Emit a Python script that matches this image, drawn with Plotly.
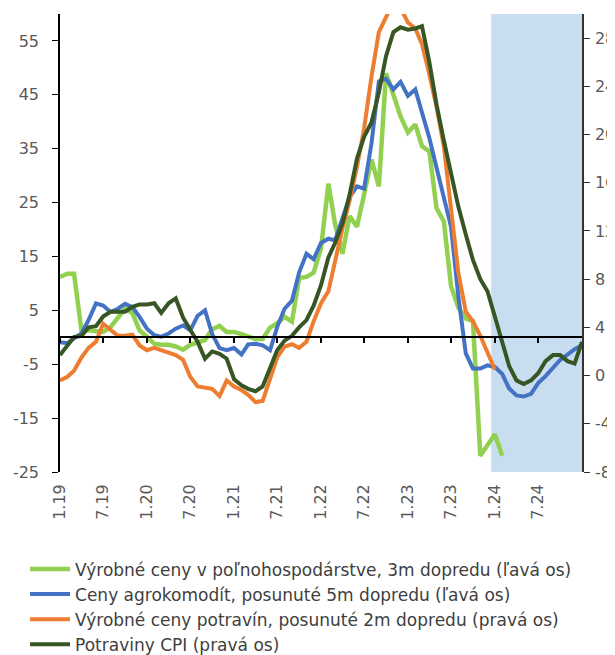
import plotly.graph_objects as go
import pandas as pd

# ---------------- data ----------------
months = pd.date_range("2019-01-01", periods=73, freq="MS")

green_vals = [11.2, 11.8, 11.8, 1.3, 1.3, 1.2, 1.0, 1.9, 3.8, 5.3,
              4.5, 1.3, 0.1, -1.2, -1.4, -1.4, -1.7, -2.3, -1.4, -1.0,
              -0.5, 1.5, 2.1, 1.0, 1.0, 0.6, 0.2, -0.3, -0.3, 1.8,
              2.6, 3.8, 2.9, 11.0, 11.2, 12.0, 16.5, 28.5, 21.0, 15.5,
              22.5, 20.5, 26.5, 33.0, 28.0, 49.0, 45.0, 41.0, 38.0, 39.5,
              35.5, 34.5, 24.0, 21.5, 9.5, 5.5, 3.5, 3.0, -22.0, -20.0,
              -18.0, -22.0]

blue_vals = [-0.9, -1.1, -0.2, 0.7, 3.2, 6.3, 5.9, 4.7, 5.3, 6.2,
             5.6, 3.8, 1.6, 0.4, 0.1, 0.7, 1.6, 2.2, 1.3, 4.0,
             5.0, 0.6, -2.0, -2.4, -2.0, -3.2, -1.3, -1.2, -1.5, -2.4,
             1.9, 5.3, 6.8, 12.0, 15.5, 14.5, 17.5, 18.3, 18.0, 22.0,
             26.0, 28.0, 27.6, 36.0, 47.5, 48.0, 46.0, 47.4, 44.8, 46.0,
             42.0, 37.0, 31.5, 26.0, 20.5, 7.5, -3.0, -5.8, -5.8, -5.2,
             -5.5, -6.8, -9.5, -10.8, -11.0, -10.5, -8.5, -7.2, -5.8, -4.2,
             -3.2, -2.2, -1.5]

orange_vals = [-0.4, -0.1, 0.4, 1.5, 2.3, 2.8, 4.3, 3.8, 3.3, 3.3,
               3.4, 2.5, 2.1, 2.3, 2.1, 1.9, 1.7, 1.3, -0.1, -0.9,
               -1.0, -1.1, -1.7, -0.4, -0.9, -1.2, -1.6, -2.2, -2.1, -0.2,
               1.5, 2.4, 2.6, 2.3, 2.8, 4.5, 6.0, 7.0, 9.5, 12.2,
               14.5, 17.3, 20.5, 24.8, 28.5, 29.8, 31.0, 30.5, 29.3, 28.8,
               27.5, 25.0, 22.3, 19.0, 14.0, 8.5, 5.3, 4.5, 3.3, 2.0,
               0.5]

cpi_vals = [1.7, 2.5, 3.2, 3.3, 4.0, 4.1, 4.9, 5.3, 5.3, 5.3,
            5.7, 5.9, 5.9, 6.0, 5.2, 6.0, 6.4, 4.8, 3.8, 2.8,
            1.4, 2.0, 1.8, 1.4, -0.3, -0.8, -1.1, -1.3, -0.9, 0.7,
            2.1, 2.9, 3.3, 4.0, 4.6, 5.8, 7.5, 9.8, 11.0, 12.6,
            15.0, 18.0, 19.8, 21.0, 23.5, 26.5, 28.5, 28.9, 28.7, 28.8,
            29.0, 26.0, 22.5, 19.5, 16.8, 14.0, 11.7, 9.6, 8.0, 7.0,
            4.9, 2.8, 0.8, -0.4, -0.7, -0.4, 0.2, 1.2, 1.7, 1.7,
            1.2, 1.0, 2.8]

forecast_start = pd.Timestamp("2024-01-01")

tick_dates = pd.date_range("2019-01-01", "2024-07-01", freq="6MS")
tick_labels = ["1.19", "7.19", "1.20", "7.20", "1.21", "7.21",
               "1.22", "7.22", "1.23", "7.23", "1.24", "7.24"]

left_range = [-25, 60]
right_range = [-8, 30]
left_ticks = [-25, -15, -5, 5, 15, 25, 35, 45, 55]
left_labels = ["-25", "-15", "-5", "5", "15", "25", "35", "45", "55"]
right_ticks = [-8, -4, 0, 4, 8, 12, 16, 20, 24, 28]
right_labels = ["-8", "-4", "0", "4", "8", "12", "16", "20", "24", "28"]

series_names = [
    "Výrobné ceny v poľnohospodárstve, 3m dopredu (ľavá os)",
    "Ceny agrokomodít, posunuté 5m dopredu (ľavá os)",
    "Výrobné ceny potravín, posunuté 2m dopredu (pravá os)",
    "Potraviny CPI (pravá os)",
]
series_colors = ["#92D050", "#4472C4", "#ED7D31", "#375623"]

# ---------------- figure ----------------
FONT = "DejaVu Sans"
TICK_COLOR = "#595959"
TICK_SIZE = 16

fig = go.Figure()

fig.add_trace(go.Scatter(x=months[:len(green_vals)], y=green_vals, mode="lines",
                         name=series_names[0],
                         line=dict(color=series_colors[0], width=4.5), yaxis="y"))
fig.add_trace(go.Scatter(x=months[:len(blue_vals)], y=blue_vals, mode="lines",
                         name=series_names[1],
                         line=dict(color=series_colors[1], width=4), yaxis="y"))
fig.add_trace(go.Scatter(x=months[:len(orange_vals)], y=orange_vals, mode="lines",
                         name=series_names[2],
                         line=dict(color=series_colors[2], width=4), yaxis="y2"))
fig.add_trace(go.Scatter(x=months[:len(cpi_vals)], y=cpi_vals, mode="lines",
                         name=series_names[3],
                         line=dict(color=series_colors[3], width=4), yaxis="y2"))

# invisible trace to anchor the zero-line axis
fig.add_trace(go.Scatter(x=[months[0]], y=[0], mode="markers", opacity=0,
                         showlegend=False, hoverinfo="skip", xaxis="x2", yaxis="y"))

# forecast shading: from half a month before the first forecast month to the end
fig.add_shape(type="rect", xref="x", yref="paper",
              x0=forecast_start - pd.Timedelta(days=15.5), x1=months[-1],
              y0=0, y1=1, fillcolor="#C9DDF0", line=dict(width=0), layer="below")

x_range = [months[0], months[-1]]

# page body has an 8px margin, so the figure is sized to the visible area
fig.update_layout(
    width=607, height=647,
    margin=dict(l=52, r=33, t=6, b=183, autoexpand=False),
    paper_bgcolor="white", plot_bgcolor="white",
    font=dict(family=FONT, size=TICK_SIZE, color=TICK_COLOR),
    xaxis=dict(
        range=x_range, tickvals=tick_dates, ticktext=tick_labels,
        tickangle=-90, showline=False, ticks="", showgrid=False, zeroline=False,
        tickfont=dict(family=FONT, size=TICK_SIZE, color=TICK_COLOR),
        ticklabelstandoff=8, automargin=False,
    ),
    xaxis2=dict(
        overlaying="x", anchor="free",
        position=(0 - left_range[0]) / (left_range[1] - left_range[0]),
        range=x_range, tickvals=tick_dates, showticklabels=False,
        ticks="outside", ticklen=5, tickwidth=1.5, tickcolor="black",
        showline=True, linecolor="black", linewidth=1.5,
        showgrid=False, zeroline=False, automargin=False,
    ),
    yaxis=dict(
        range=left_range, tickvals=left_ticks, ticktext=left_labels,
        ticks="outside", ticklen=6,
        tickcolor="black", showline=True, linecolor="black", linewidth=1.5,
        showgrid=False, zeroline=False,
        tickfont=dict(family=FONT, size=TICK_SIZE, color=TICK_COLOR),
        ticklabelstandoff=10, automargin=False,
    ),
    yaxis2=dict(
        overlaying="y", side="right", range=right_range,
        tickvals=right_ticks, ticktext=right_labels,
        ticks="outside", ticklen=6, tickcolor="#333333",
        showline=True, linecolor="#333333", linewidth=1.5,
        showgrid=False, zeroline=False,
        tickfont=dict(family=FONT, size=TICK_SIZE, color=TICK_COLOR),
        ticklabelstandoff=2, automargin=False,
    ),
    legend=dict(
        orientation="v", x=-0.067, xanchor="left", y=-0.1735, yanchor="top",
        font=dict(family=FONT, size=17, color="#404040"),
        bgcolor="rgba(0,0,0,0)", itemwidth=40, tracegroupgap=0,
    ),
    showlegend=True,
)

fig.write_html("out.html")
